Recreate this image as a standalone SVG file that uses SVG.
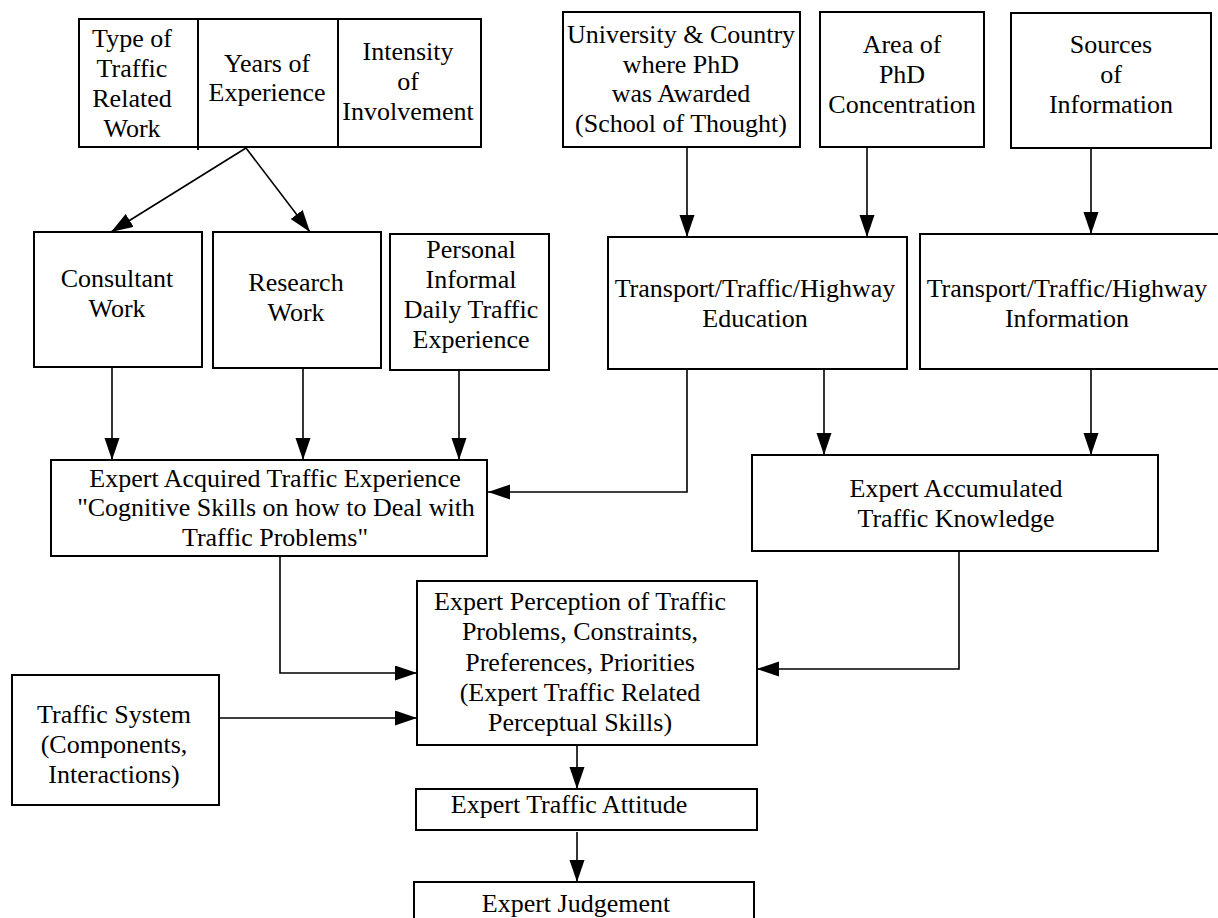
<svg xmlns="http://www.w3.org/2000/svg" width="1218" height="918" viewBox="0 0 1218 918">
<style>
.box{fill:#fff;stroke:#000;stroke-width:2}
.ln{fill:none;stroke:#000;stroke-width:1.6}
text{font-family:"Liberation Serif","Times New Roman",serif;font-size:26px;fill:#000;text-anchor:middle}
</style>
<defs>
<marker id="ah" markerUnits="userSpaceOnUse" markerWidth="22" markerHeight="16" refX="22" refY="7.5" orient="auto">
<path d="M0,0 L22,7.5 L0,15 z" fill="#000"/>
</marker>
</defs>
<rect width="1218" height="918" fill="#fff"/>
<g id="connectors" class="ln" marker-end="url(#ah)">
<path class="ln" d="M246,148 L111,232"/>
<path class="ln" d="M246,148 L310,232"/>
<path class="ln" d="M112,367 V460"/>
<path class="ln" d="M303,368 V460"/>
<path class="ln" d="M459,370 V460"/>
<path class="ln" d="M687,147 V237"/>
<path class="ln" d="M867,147 V237"/>
<path class="ln" d="M1091,148 V234"/>
<path class="ln" d="M687,369 V492 H488"/>
<path class="ln" d="M824,369 V455"/>
<path class="ln" d="M1091,369 V455"/>
<path class="ln" d="M280,556 V673 H417"/>
<path class="ln" d="M219,718 H417"/>
<path class="ln" d="M959,551 V669 H757"/>
<path class="ln" d="M577,745 V789"/>
<path class="ln" d="M577,832 V882"/>
</g>
<g id="experience-factors">
<rect class="box" x="79" y="19" width="402" height="128"/>
<line x1="198" y1="19" x2="198" y2="150" stroke="#000" stroke-width="2"/>
<line x1="338" y1="19" x2="338" y2="147" stroke="#000" stroke-width="2"/>
<text x="132" y="47">Type of</text>
<text x="132" y="77">Traffic</text>
<text x="132" y="107">Related</text>
<text x="132" y="137">Work</text>
<text x="267" y="72">Years of</text>
<text x="267" y="101">Experience</text>
<text x="408" y="60">Intensity</text>
<text x="408" y="90">of</text>
<text x="408" y="120">Involvement</text>
</g>
<g id="university">
<rect class="box" x="563" y="12" width="237" height="135"/>
<text x="681" y="43">University &amp; Country</text>
<text x="681" y="73">where PhD</text>
<text x="681" y="102">was Awarded</text>
<text x="681" y="132">(School of Thought)</text>
</g>
<g id="area">
<rect class="box" x="820" y="12" width="164" height="135"/>
<text x="902" y="53">Area of</text>
<text x="902" y="83">PhD</text>
<text x="902" y="113">Concentration</text>
</g>
<g id="sources">
<rect class="box" x="1011" y="13" width="200" height="135"/>
<text x="1111" y="53">Sources</text>
<text x="1111" y="83">of</text>
<text x="1111" y="113">Information</text>
</g>
<g id="consultant">
<rect class="box" x="34" y="232" width="168" height="135"/>
<text x="117" y="287">Consultant</text>
<text x="117" y="317">Work</text>
</g>
<g id="research">
<rect class="box" x="213" y="232" width="168" height="136"/>
<text x="296" y="291">Research</text>
<text x="296" y="321">Work</text>
</g>
<g id="personal">
<rect class="box" x="390" y="234" width="159" height="136"/>
<text x="471" y="258">Personal</text>
<text x="471" y="288">Informal</text>
<text x="471" y="318">Daily Traffic</text>
<text x="471" y="348">Experience</text>
</g>
<g id="education">
<rect class="box" x="608" y="237" width="299" height="132"/>
<text x="755" y="297">Transport/Traffic/Highway</text>
<text x="755" y="327">Education</text>
</g>
<g id="information">
<rect class="box" x="920" y="234" width="310" height="135"/>
<text x="1067" y="297">Transport/Traffic/Highway</text>
<text x="1067" y="327">Information</text>
</g>
<g id="acquired-experience">
<rect class="box" x="51" y="460" width="436" height="96"/>
<text x="275" y="487">Expert Acquired Traffic Experience</text>
<text x="276" y="516">"Cognitive Skills on how to Deal with</text>
<text x="275" y="546">Traffic Problems"</text>
</g>
<g id="accumulated-knowledge">
<rect class="box" x="752" y="455" width="406" height="96"/>
<text x="956" y="497">Expert Accumulated</text>
<text x="956" y="527">Traffic Knowledge</text>
</g>
<g id="perception">
<rect class="box" x="417" y="581" width="340" height="164"/>
<text x="580" y="610">Expert Perception of Traffic</text>
<text x="580" y="640">Problems, Constraints,</text>
<text x="580" y="671">Preferences, Priorities</text>
<text x="580" y="701">(Expert Traffic Related</text>
<text x="580" y="731">Perceptual Skills)</text>
</g>
<g id="traffic-system">
<rect class="box" x="12" y="675" width="207" height="130"/>
<text x="114" y="723">Traffic System</text>
<text x="114" y="753">(Components,</text>
<text x="114" y="783">Interactions)</text>
</g>
<g id="attitude">
<rect class="box" x="416" y="789" width="341" height="41"/>
<text x="569" y="813">Expert Traffic Attitude</text>
</g>
<g id="judgement">
<rect class="box" x="414" y="882" width="340" height="50"/>
<text x="576" y="912">Expert Judgement</text>
</g>
</svg>
